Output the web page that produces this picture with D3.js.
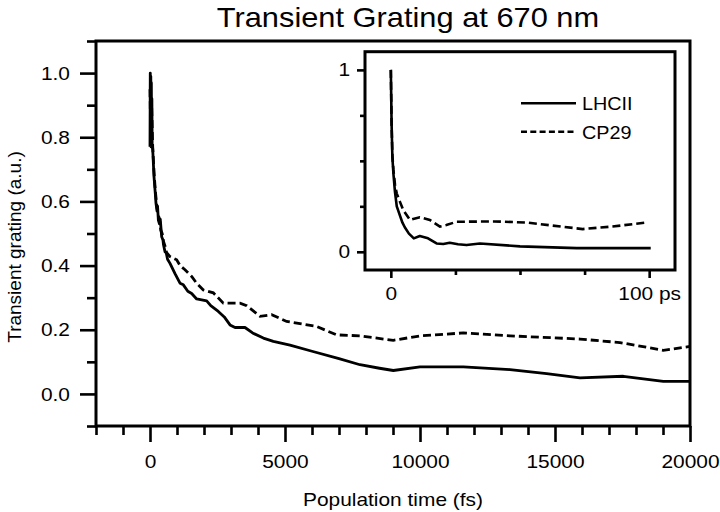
<!DOCTYPE html>
<html>
<head>
<meta charset="utf-8">
<style>
  body { margin: 0; background: #fff; }
  svg { display: block; font-family: "Liberation Sans", Arial, sans-serif; }
</style>
<script src="https://d3js.org/d3.v7.min.js"></script>
</head>
<body>
<svg id="chart" width="720" height="512"></svg>
<script>
// main panel: population time (fs) vs transient grating signal
var lhcii = [
  [0, 0.77], [10, 1.0], [20, 0.78], [30, 0.99], [40, 0.77], [50, 0.97], [60, 0.77],
  [70, 0.92], [80, 0.77], [100, 0.764], [148, 0.677],
  [200, 0.62], [222, 0.594], [260, 0.57], [280, 0.585], [309, 0.542], [350, 0.53],
  [380, 0.545], [432, 0.49], [480, 0.48], [500, 0.465], [556, 0.443], [600, 0.44],
  [650, 0.42], [741, 0.407], [926, 0.375], [1111, 0.345], [1235, 0.34], [1400, 0.32],
  [1543, 0.313], [1728, 0.296], [1914, 0.293], [2099, 0.29], [2250, 0.275], [2530, 0.257],
  [2750, 0.24], [2963, 0.215], [3150, 0.207], [3518, 0.207], [3800, 0.19], [4198, 0.174],
  [4568, 0.164], [5185, 0.152], [6000, 0.133], [7000, 0.11], [7778, 0.091], [8500, 0.08],
  [9012, 0.073], [10000, 0.084], [11605, 0.084], [13333, 0.076], [14691, 0.063],
  [15926, 0.05], [17531, 0.055], [19012, 0.039], [20000, 0.039]
];
var cp29 = [
  [0, 0.95], [30, 0.78], [60, 0.9], [100, 0.77], [150, 0.69], [200, 0.63], [260, 0.58],
  [300, 0.56], [350, 0.545], [400, 0.51], [450, 0.5], [500, 0.475], [560, 0.46],
  [617, 0.44], [741, 0.428], [988, 0.418], [1111, 0.40], [1296, 0.387], [1543, 0.366],
  [1728, 0.345], [1975, 0.324], [2345, 0.315], [2716, 0.283], [3333, 0.283], [3580, 0.275],
  [4074, 0.242], [4506, 0.247], [5061, 0.226], [6173, 0.21], [6914, 0.184], [7778, 0.181],
  [9012, 0.167], [10000, 0.181], [11605, 0.19], [13333, 0.181], [15926, 0.171],
  [17407, 0.16], [19012, 0.136], [20000, 0.148]
];
// inset: time in ps
var lhciiInset = [
  [0, 1.0], [0.3, 0.7], [0.6, 0.52], [1.0, 0.43], [1.6, 0.33], [2.3, 0.25], [3.5, 0.2],
  [4.5, 0.16], [5.4, 0.135], [7, 0.1], [8.9, 0.074], [11.2, 0.087], [14.4, 0.074],
  [17.7, 0.046], [20.3, 0.043], [22.8, 0.05], [26, 0.042], [29.3, 0.037], [34.5, 0.046],
  [50, 0.03], [72, 0.02], [100.6, 0.02]
];
var cp29Inset = [
  [0, 1.0], [0.3, 0.7], [0.6, 0.53], [1.0, 0.45], [1.6, 0.37], [2.3, 0.32], [3.5, 0.276],
  [4.8, 0.23], [7.4, 0.175], [11.2, 0.19], [15.1, 0.175], [19, 0.139], [21.5, 0.147],
  [25.4, 0.165], [40, 0.167], [52.4, 0.161], [74.3, 0.125], [85.8, 0.139], [99, 0.161]
];

var xMajor = [0, 5000, 10000, 15000, 20000];
var xMinor = d3.range(-2000, 20001, 1000).filter(function(d) { return d % 5000 != 0; });
var yMajor = [0, 0.2, 0.4, 0.6, 0.8, 1.0];
var yMinor = [-0.1, 0.1, 0.3, 0.5, 0.7, 0.9, 1.1];
var insetXMajor = [0, 100];
var insetXMinor = [25, 50, 75];
var insetYMajor = [0, 1];
var insetYMinor = [0.25, 0.5, 0.75];
var seriesNames = ["LHCII", "CP29"];

var svg = d3.select("#chart");
var stretch = 1.1; // the scan is a bit wider than tall

var x = d3.scaleLinear().domain([-2000, 20000]).range([96, 690]);
var y = d3.scaleLinear().domain([-0.1, 1.1]).range([426, 41]);

var line = d3.line()
  .x(function(d) { return x(d[0]); })
  .y(function(d) { return y(d[1]); });

// frame
svg.append("rect")
  .attr("x", 96).attr("y", 41).attr("width", 594).attr("height", 385)
  .attr("fill", "none").attr("stroke", "#000").attr("stroke-width", 3);

function styleAxis(g, fs) {
  g.select(".domain").remove();
  g.selectAll("line").attr("stroke", "#000").attr("stroke-width", 2.6);
  g.selectAll("text").attr("fill", "#000").style("font-size", fs + "px")
    .style("font-family", '"Liberation Sans", Arial, sans-serif');
}

var gx = svg.append("g").attr("transform", "translate(0,426)")
  .call(d3.axisBottom(x).tickValues(xMajor).tickSize(16).tickPadding(13).tickFormat(d3.format("d")));
styleAxis(gx, 19);
var gxm = svg.append("g").attr("transform", "translate(0,426)")
  .call(d3.axisBottom(x).tickValues(xMinor).tickSize(9).tickFormat(""));
styleAxis(gxm, 19);

var gy = svg.append("g").attr("transform", "translate(96,0)")
  .call(d3.axisLeft(y).tickValues(yMajor).tickSize(16).tickPadding(10).tickFormat(d3.format(".1f")));
styleAxis(gy, 19);
var gym = svg.append("g").attr("transform", "translate(96,0)")
  .call(d3.axisLeft(y).tickValues(yMinor).tickSize(9).tickFormat(""));
styleAxis(gym, 19);

svg.append("path").datum(lhcii)
  .attr("fill", "none").attr("stroke", "#000").attr("stroke-width", 2.8)
  .attr("stroke-linejoin", "round").attr("d", line);
svg.append("path").datum(cp29)
  .attr("fill", "none").attr("stroke", "#000").attr("stroke-width", 2.8)
  .attr("stroke-dasharray", "8,4").attr("d", line);

// titles
svg.append("text").attr("class", "hz")
  .attr("x", 408).attr("y", 27).attr("text-anchor", "middle")
  .style("font-size", "28px").text("Transient Grating at 670 nm");
svg.append("text").attr("class", "hz")
  .attr("x", 393).attr("y", 506).attr("text-anchor", "middle")
  .style("font-size", "19px").text("Population time (fs)");
svg.append("text")
  .attr("transform", "translate(20.5,247) rotate(-90)").attr("text-anchor", "middle")
  .style("font-size", "19px").text("Transient grating (a.u.)");

// inset
var xi = d3.scaleLinear().domain([-10, 110]).range([365, 675]);
var yi = d3.scaleLinear().domain([-0.1, 1.1]).range([270, 51.7]);
var lineI = d3.line()
  .x(function(d) { return xi(d[0]); })
  .y(function(d) { return yi(d[1]); });

svg.append("rect")
  .attr("x", 365).attr("y", 51.7).attr("width", 310).attr("height", 218.3)
  .attr("fill", "#fff").attr("stroke", "#000").attr("stroke-width", 3);

var gix = svg.append("g").attr("transform", "translate(0,270)")
  .call(d3.axisBottom(xi).tickValues(insetXMajor).tickSize(8).tickPadding(9)
    .tickFormat(function(d) { return d == 100 ? "100 ps" : d; }));
styleAxis(gix, 19);
var gixm = svg.append("g").attr("transform", "translate(0,270)")
  .call(d3.axisBottom(xi).tickValues(insetXMinor).tickSize(5).tickFormat(""));
styleAxis(gixm, 19);
var giy = svg.append("g").attr("transform", "translate(365,0)")
  .call(d3.axisLeft(yi).tickValues(insetYMajor).tickSize(8).tickPadding(7).tickFormat(d3.format("d")));
styleAxis(giy, 19);
var giym = svg.append("g").attr("transform", "translate(365,0)")
  .call(d3.axisLeft(yi).tickValues(insetYMinor).tickSize(5).tickFormat(""));
styleAxis(giym, 19);

svg.append("path").datum(lhciiInset)
  .attr("fill", "none").attr("stroke", "#000").attr("stroke-width", 2.6)
  .attr("stroke-linejoin", "round").attr("d", lineI);
svg.append("path").datum(cp29Inset)
  .attr("fill", "none").attr("stroke", "#000").attr("stroke-width", 2.6)
  .attr("stroke-dasharray", "8,4").attr("d", lineI);

// legend
var legend = svg.selectAll(".legend").data(seriesNames).enter().append("g")
  .attr("class", "legend")
  .attr("transform", function(d, i) { return "translate(521," + (103.3 + i * 28.4) + ")"; });
legend.append("line")
  .attr("x1", 0).attr("x2", 55).attr("y1", 0).attr("y2", 0)
  .attr("stroke", "#000").attr("stroke-width", 2.6)
  .attr("stroke-dasharray", function(d, i) { return i == 1 ? "6,3.3" : null; });
legend.append("text").attr("class", "hz")
  .attr("x", 61).attr("y", 7).style("font-size", "18px")
  .text(function(d) { return d; });

// widen horizontal text to match the scan
svg.selectAll("g.tick text, text.hz").each(function() {
  var len = this.getComputedTextLength();
  if (len > 0) {
    d3.select(this).attr("textLength", len * stretch).attr("lengthAdjust", "spacingAndGlyphs");
  }
});
</script>
</body>
</html>
